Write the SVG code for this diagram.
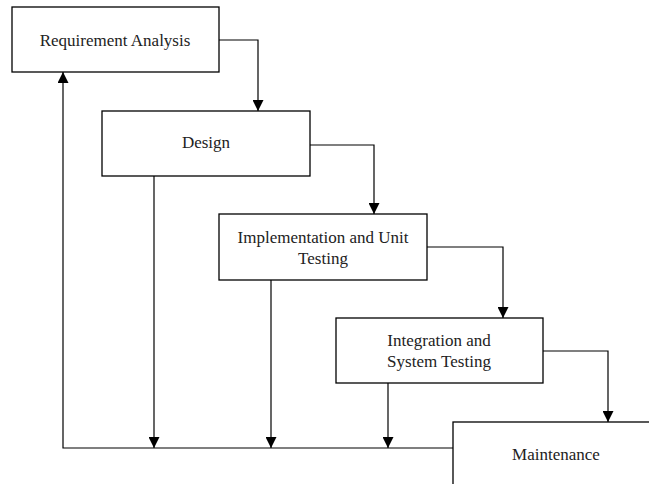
<svg xmlns="http://www.w3.org/2000/svg" width="649" height="484" viewBox="0 0 649 484">
<defs>
<marker id="arr" viewBox="0 0 10 10" refX="10" refY="5" markerWidth="11" markerHeight="11" markerUnits="userSpaceOnUse" orient="auto">
<path d="M0,0 L10,5 L0,10 Z" fill="#000"/>
</marker>
<style>
.box{fill:#fff;stroke:#000;stroke-width:1.3}
.lbl{font-family:"Liberation Serif","Times New Roman",serif;font-size:17px;fill:#222;text-anchor:middle}
.con{fill:none;stroke:#000;stroke-width:1.2}
</style>
</defs>
<rect width="649" height="484" fill="#fff"/>
<g id="connectors">
<path class="con" d="M219,40 H258 V111" marker-end="url(#arr)"/>
<path class="con" d="M310,145 H374 V214" marker-end="url(#arr)"/>
<path class="con" d="M427,247 H503 V318" marker-end="url(#arr)"/>
<path class="con" d="M543,351 H608 V422" marker-end="url(#arr)"/>
<path class="con" d="M154,176 V448" marker-end="url(#arr)"/>
<path class="con" d="M271,280 V448" marker-end="url(#arr)"/>
<path class="con" d="M388,383 V448" marker-end="url(#arr)"/>
<path class="con" d="M453,448 H63 V72" marker-end="url(#arr)"/>
</g>
<g id="requirement">
<rect class="box" x="12" y="7" width="207" height="65"/>
<text class="lbl" x="115" y="46">Requirement Analysis</text>
</g>
<g id="design">
<rect class="box" x="102" y="111" width="208" height="65"/>
<text class="lbl" x="206" y="148">Design</text>
</g>
<g id="implementation">
<rect class="box" x="219" y="214" width="208" height="66"/>
<text class="lbl" x="323" y="243">Implementation and Unit</text>
<text class="lbl" x="323" y="264">Testing</text>
</g>
<g id="integration">
<rect class="box" x="336" y="318" width="207" height="65"/>
<text class="lbl" x="439" y="346">Integration and</text>
<text class="lbl" x="439" y="367">System Testing</text>
</g>
<g id="maintenance">
<rect class="box" x="453" y="422" width="210" height="70"/>
<text class="lbl" x="556" y="460">Maintenance</text>
</g>
</svg>
